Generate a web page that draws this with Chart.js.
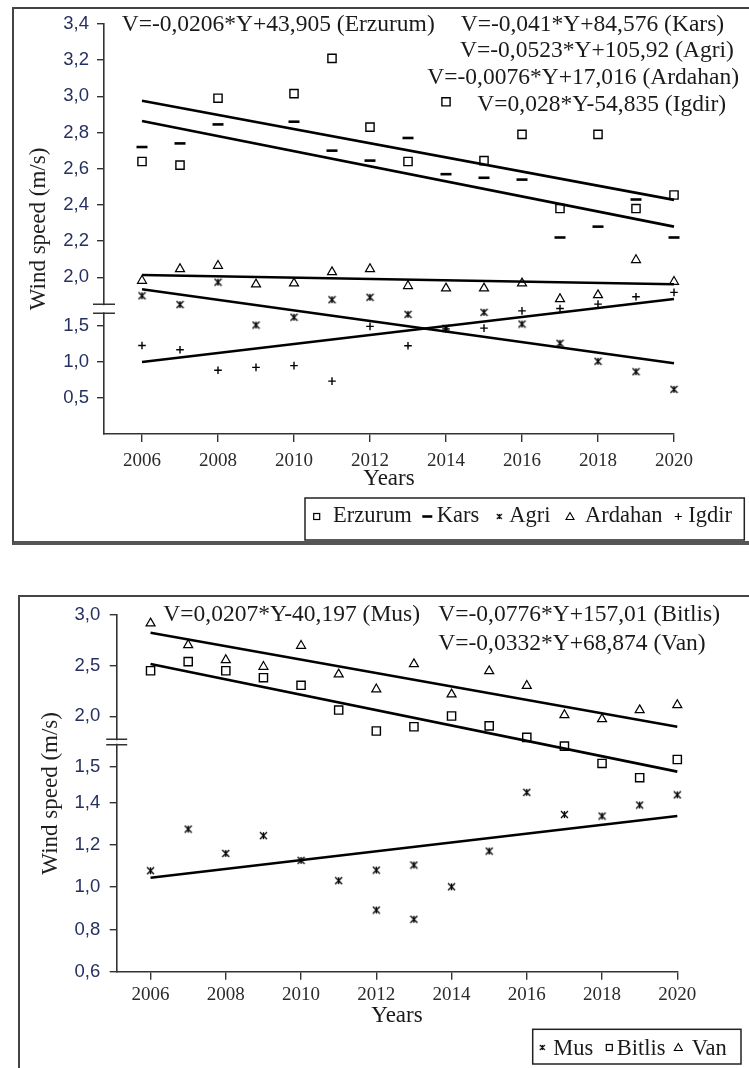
<!DOCTYPE html>
<html><head><meta charset="utf-8">
<script src="https://cdn.jsdelivr.net/npm/chart.js@4/dist/chart.umd.min.js"></script>
<style>
html,body{margin:0;padding:0;background:#fff;width:749px;height:1068px;overflow:hidden;position:relative}
.frame{position:absolute;box-sizing:border-box}
#f1{left:12px;top:7px;width:800px;height:538px;border-top:2px solid #444;border-left:2px solid #444;border-bottom:4px solid #555}
#f2{left:18px;top:595px;width:800px;height:600px;border-top:2px solid #444;border-left:2px solid #444}
.wrap{position:absolute;left:0}
#w1{top:0;width:749px;height:560px}
#w2{top:560px;width:749px;height:508px}
canvas{display:block}
</style></head>
<body>
<div class="frame" id="f1"></div>
<div class="frame" id="f2"></div>
<div class="wrap" id="w1"><canvas id="c1" width="749" height="560"></canvas></div>
<div class="wrap" id="w2"><canvas id="c2" width="749" height="508"></canvas></div>
<script>
// ---------------- DATA ----------------
const years = [2006,2007,2008,2009,2010,2011,2012,2013,2014,2015,2016,2017,2018,2019,2020];
const xTicks = [2006,2008,2010,2012,2014,2016,2018,2020];
const trendYears = [2006, 2020];

// top panel
const topSeries = ['Erzurum','Kars','Agri','Ardahan','Igdir'];
const erzurum = [2.64,2.62,2.99,null,3.015,3.21,2.83,2.64,2.97,2.645,2.79,2.38,2.79,2.38,2.455];
const kars    = [2.72,2.74,2.845,null,2.86,2.70,2.645,2.77,2.57,2.55,2.54,2.22,2.28,2.43,2.22];
const agri    = [1.81,1.72,1.95,1.51,1.59,1.77,1.795,1.62,1.47,1.64,1.52,1.26,1.01,0.865,0.62];
const ardahan = [1.965,2.046,2.064,1.928,1.938,2.029,2.046,1.911,1.887,1.887,1.938,1.777,1.818,2.096,1.955];
const igdir   = [1.23,1.17,0.885,0.925,0.95,0.735,1.495,1.225,1.46,1.47,1.655,1.68,1.725,1.80,1.845];
const erzurumTrend = [2.976, 2.428];
const karsTrend    = [2.864, 2.28];
const agriTrend    = [1.877, 0.982];
const ardahanTrend = [2.013, 1.928];
const igdirTrend   = [1.0, 1.777];
const topYTicks = [0.5,1.0,1.5,2.0,2.2,2.4,2.6,2.8,3.0,3.2,3.4];
const topEquations = ['V=-0,0206*Y+43,905 (Erzurum)','V=-0,041*Y+84,576 (Kars)','V=-0,0523*Y+105,92 (Agri)','V=-0,0076*Y+17,016 (Ardahan)','V=0,028*Y-54,835 (Igdir)'];

// bottom panel
const bottomSeries = ['Mus','Bitlis','Van'];
const musYears = [2006,2007,2008,2009,2010,2011,2012,2012,2013,2013,2014,2015,2016,2017,2018,2019,2020];
const mus    = [1.078,1.275,1.16,1.244,1.127,1.031,1.081,0.892,1.105,0.848,1.002,1.171,1.429,1.344,1.337,1.389,1.422];
const bitlis = [2.45,2.54,2.45,2.381,2.306,2.062,1.855,1.897,2.003,1.906,1.792,1.706,1.535,1.47,1.574];
const van    = [2.918,2.704,2.556,2.49,2.697,2.415,2.267,2.516,2.217,2.447,2.302,2.013,1.973,2.062,2.112];
const musTrend    = [1.045, 1.337];
const bitlisTrend = [2.517, 1.487];
const vanTrend    = [2.825, 1.897];
const bottomYTicks = [0.6,0.8,1.0,1.2,1.4,1.5,2.0,2.5,3.0];
const bottomEquations = ['V=0,0207*Y-40,197 (Mus)','V=-0,0776*Y+157,01 (Bitlis)','V=-0,0332*Y+68,874 (Van)'];

// ---------------- BROKEN (piecewise) SCALE ----------------
function makeBrokenScale(id, knots) {
  class S extends Chart.LinearScale {
    _dec(v) {
      let i = 0;
      while (i < knots.length - 2 && v > knots[i + 1][0]) i++;
      const a = knots[i], b = knots[i + 1];
      return a[1] + (v - a[0]) * (b[1] - a[1]) / (b[0] - a[0]);
    }
    getPixelForValue(v) {
      if (v === null || v === undefined || isNaN(v)) return NaN;
      return this.getPixelForDecimal(this._dec(v));
    }
    getValueForPixel(p) {
      const d = this.getDecimalForPixel(p);
      let i = 0;
      while (i < knots.length - 2 && d > knots[i + 1][1]) i++;
      const a = knots[i], b = knots[i + 1];
      return a[0] + (d - a[1]) * (b[0] - a[0]) / (b[1] - a[1]);
    }
  }
  S.id = id;
  S.defaults = Chart.LinearScale.defaults;
  Chart.register(S);
}
// [value, fraction of axis height]
makeBrokenScale('brokenTop', [[0,0],[1.5,0.2634],[2.0,0.3822],[3.4,1]]);
makeBrokenScale('brokenBottom', [[0.6,0],[1.4,0.4738],[1.5,0.5739],[3.0,1]]);

// ---------------- MARKERS ----------------
function starImg(s, lw) {
  const c = document.createElement('canvas'); c.width = s; c.height = s;
  const g = c.getContext('2d'); g.strokeStyle = '#000'; g.lineWidth = lw;
  const m = 1, e = s - 1;
  g.beginPath();
  g.moveTo(m, m); g.lineTo(e, e); g.moveTo(e, m); g.lineTo(m, e);
  g.moveTo(s / 2, m); g.lineTo(s / 2, e);
  g.stroke();
  return c;
}
const starBig = starImg(9, 1.3);
const starSmall = starImg(7, 1.1);
const markerStyle = {
  Erzurum: {pointStyle:'rect', radius:5.8, bw:1.4},
  Kars:    {pointStyle:'line', radius:5.5, bw:2.6},
  Agri:    {pointStyle:starBig, radius:5, bw:1},
  Ardahan: {pointStyle:'triangle', radius:5.2, bw:1.2},
  Igdir:   {pointStyle:'cross', radius:3.8, bw:1.4},
  Mus:     {pointStyle:starBig, radius:5, bw:1},
  Bitlis:  {pointStyle:'rect', radius:5.8, bw:1.4},
  Van:     {pointStyle:'triangle', radius:5.2, bw:1.2}
};

function pts(xs, ys) {
  return xs.map((x, i) => ({x: x, y: ys[i]})).filter(p => p.y !== null);
}
function scatterDs(name, xs, ys) {
  const m = markerStyle[name];
  return {label: name, data: pts(xs, ys), showLine: false, clip: false, pointStyle: m.pointStyle,
    pointRadius: m.radius, pointBorderWidth: m.bw, pointBorderColor: '#000',
    pointBackgroundColor: 'rgba(0,0,0,0)', borderColor: '#000', backgroundColor: 'rgba(0,0,0,0)'};
}
function trendDs(name, vals) {
  return {label: name + ' trend', data: pts(trendYears, vals), showLine: true, clip: false, pointRadius: 0,
    borderColor: '#000', borderWidth: 2.6, fill: false};
}

function drawLegendMarker(ctx, name, x, y) {
  const m = markerStyle[name];
  ctx.save();
  ctx.strokeStyle = '#000'; ctx.fillStyle = '#000';
  if (typeof m.pointStyle !== 'string') {
    ctx.drawImage(starSmall, x - starSmall.width / 2, y - starSmall.height / 2);
  } else if (m.pointStyle === 'rect') {
    ctx.lineWidth = 1.2; ctx.strokeRect(x - 3, y - 3, 6, 6);
  } else if (m.pointStyle === 'line') {
    ctx.lineWidth = 2.6; ctx.beginPath(); ctx.moveTo(x - 5, y); ctx.lineTo(x + 5, y); ctx.stroke();
  } else if (m.pointStyle === 'triangle') {
    ctx.lineWidth = 1.1; ctx.beginPath(); ctx.moveTo(x, y - 4); ctx.lineTo(x + 4, y + 3); ctx.lineTo(x - 4, y + 3); ctx.closePath(); ctx.stroke();
  } else if (m.pointStyle === 'cross') {
    ctx.lineWidth = 1.2; ctx.beginPath(); ctx.moveTo(x - 3.5, y); ctx.lineTo(x + 3.5, y); ctx.moveTo(x, y - 3.5); ctx.lineTo(x, y + 3.5); ctx.stroke();
  }
  ctx.restore();
}

// ---------------- DECOR PLUGIN ----------------
const decor = {
  id: 'decor',
  afterDraw(chart) {
    const o = chart.options.plugins.decor;
    const ctx = chart.ctx;
    const ys = chart.scales.y;
    const ax = chart.chartArea.left;
    ctx.save();
    // axis break
    const pa = ys.getPixelForValue(o.breakVals[0]), pb = ys.getPixelForValue(o.breakVals[1]);
    ctx.fillStyle = '#fff';
    ctx.fillRect(ax - 3, Math.min(pa, pb) + 1, 6, Math.abs(pb - pa) - 2);
    ctx.strokeStyle = '#333'; ctx.lineWidth = 1.5;
    ctx.beginPath();
    [pa, pb].forEach(p => { ctx.moveTo(ax - o.breakHalf, p); ctx.lineTo(ax + o.breakHalf, p); });
    ctx.stroke();
    // equations
    ctx.font = '23.5px "Liberation Serif"'; ctx.fillStyle = '#1a1a1a';
    ctx.textAlign = 'left'; ctx.textBaseline = 'alphabetic';
    o.equations.forEach((t, i) => ctx.fillText(t, o.eqPos[i][0], o.eqPos[i][1]));
    // legend
    const L = o.legend;
    ctx.strokeStyle = '#222'; ctx.lineWidth = 1.5;
    ctx.strokeRect(L.box[0], L.box[1], L.box[2] - L.box[0], L.box[3] - L.box[1]);
    ctx.font = '22.5px "Liberation Serif"'; ctx.fillStyle = '#1a1a1a';
    L.names.forEach((n, i) => {
      drawLegendMarker(ctx, n, L.markerX[i], L.markerY);
      ctx.fillText(n, L.textX[i], L.baseY);
    });
    ctx.restore();
  }
};

function xScale(min, h, pad, titlePadBottom) {
  return {
    type: 'linear', min: min, max: 2020,
    afterFit: s => { s.height = h; },
    afterBuildTicks: s => { s.ticks = xTicks.map(v => ({value: v})); },
    ticks: {autoSkip: false, padding: pad, color: '#2a2a2a', font: {family: 'Liberation Serif', size: 19},
      callback: v => String(v)},
    grid: {drawOnChartArea: false, drawTicks: true, tickLength: 8, color: '#333', lineWidth: 1.4},
    border: {display: true, color: '#333', width: 1.6},
    title: {display: true, text: 'Years', color: '#1a1a1a', font: {family: 'Liberation Serif', size: 23},
      padding: {top: 0, bottom: titlePadBottom}}
  };
}
function yScale(type, min, max, tickVals, w, titlePadTop, tickPad) {
  return {
    type: type, min: min, max: max,
    afterFit: s => { s.width = w; },
    afterBuildTicks: s => { s.ticks = tickVals.map(v => ({value: v})); },
    ticks: {autoSkip: false, padding: tickPad, color: '#263060', font: {family: 'Liberation Sans', size: 18.5},
      callback: v => Number(v).toFixed(1).replace('.', ',')},
    grid: {drawOnChartArea: false, drawTicks: true, tickLength: 7, color: '#333', lineWidth: 1.4},
    border: {display: true, color: '#333', width: 1.6},
    title: {display: true, text: 'Wind speed (m/s)', color: '#1f1f1f', font: {family: 'Liberation Serif', size: 23},
      padding: {top: titlePadTop, bottom: 0}}
  };
}

// ---------------- TOP CHART ----------------
new Chart(document.getElementById('c1'), {
  type: 'scatter',
  data: {datasets: [
    scatterDs('Erzurum', years, erzurum),
    scatterDs('Kars', years, kars),
    scatterDs('Agri', years, agri),
    scatterDs('Ardahan', years, ardahan),
    scatterDs('Igdir', years, igdir),
    trendDs('Erzurum', erzurumTrend),
    trendDs('Kars', karsTrend),
    trendDs('Agri', agriTrend),
    trendDs('Ardahan', ardahanTrend),
    trendDs('Igdir', igdirTrend)
  ]},
  options: {
    responsive: false, devicePixelRatio: 1, animation: false, events: [],
    layout: {padding: {left: 0, top: 24, right: 75, bottom: 0}},
    scales: {
      x: xScale(2005, 126, 7.3, 67.5),
      y: yScale('brokenTop', 0, 3.4, topYTicks, 104, 25.2, 8)
    },
    plugins: {
      legend: {display: false}, tooltip: {enabled: false},
      decor: {
        breakVals: [1.63, 1.723], breakHalf: 11,
        equations: topEquations,
        eqPos: [[121.7, 31], [460.7, 31], [460, 57], [427.3, 84], [477.3, 111]],
        legend: {names: topSeries, box: [305, 498, 744.3, 540],
          markerX: [316.7, 427.3, 499.3, 570, 678.3], textX: [333, 436.7, 509.3, 585, 688.3],
          markerY: 516.5, baseY: 521.5}
      }
    }
  },
  plugins: [decor]
});

// ---------------- BOTTOM CHART ----------------
new Chart(document.getElementById('c2'), {
  type: 'scatter',
  data: {datasets: [
    scatterDs('Mus', musYears, mus),
    scatterDs('Bitlis', years, bitlis),
    scatterDs('Van', years, van),
    trendDs('Mus', musTrend),
    trendDs('Bitlis', bitlisTrend),
    trendDs('Van', vanTrend)
  ]},
  options: {
    responsive: false, devicePixelRatio: 1, animation: false, events: [],
    layout: {padding: {left: 0, top: 55, right: 71.7, bottom: 0}},
    scales: {
      x: xScale(2005.1, 96.3, 3.9, 38),
      y: yScale('brokenBottom', 0.6, 3.0, bottomYTicks, 116.7, 37.2, 9.5)
    },
    plugins: {
      legend: {display: false}, tooltip: {enabled: false},
      decor: {
        breakVals: [1.72, 1.773], breakHalf: 10.5,
        equations: bottomEquations,
        eqPos: [[163.3, 61], [438.3, 61], [438.3, 90]],
        legend: {names: bottomSeries, box: [532.7, 469.3, 741, 504],
          markerX: [542.3, 609.3, 678.3], textX: [553.3, 616.7, 691.7],
          markerY: 487.5, baseY: 495}
      }
    }
  },
  plugins: [decor]
});
</script>
</body></html>
